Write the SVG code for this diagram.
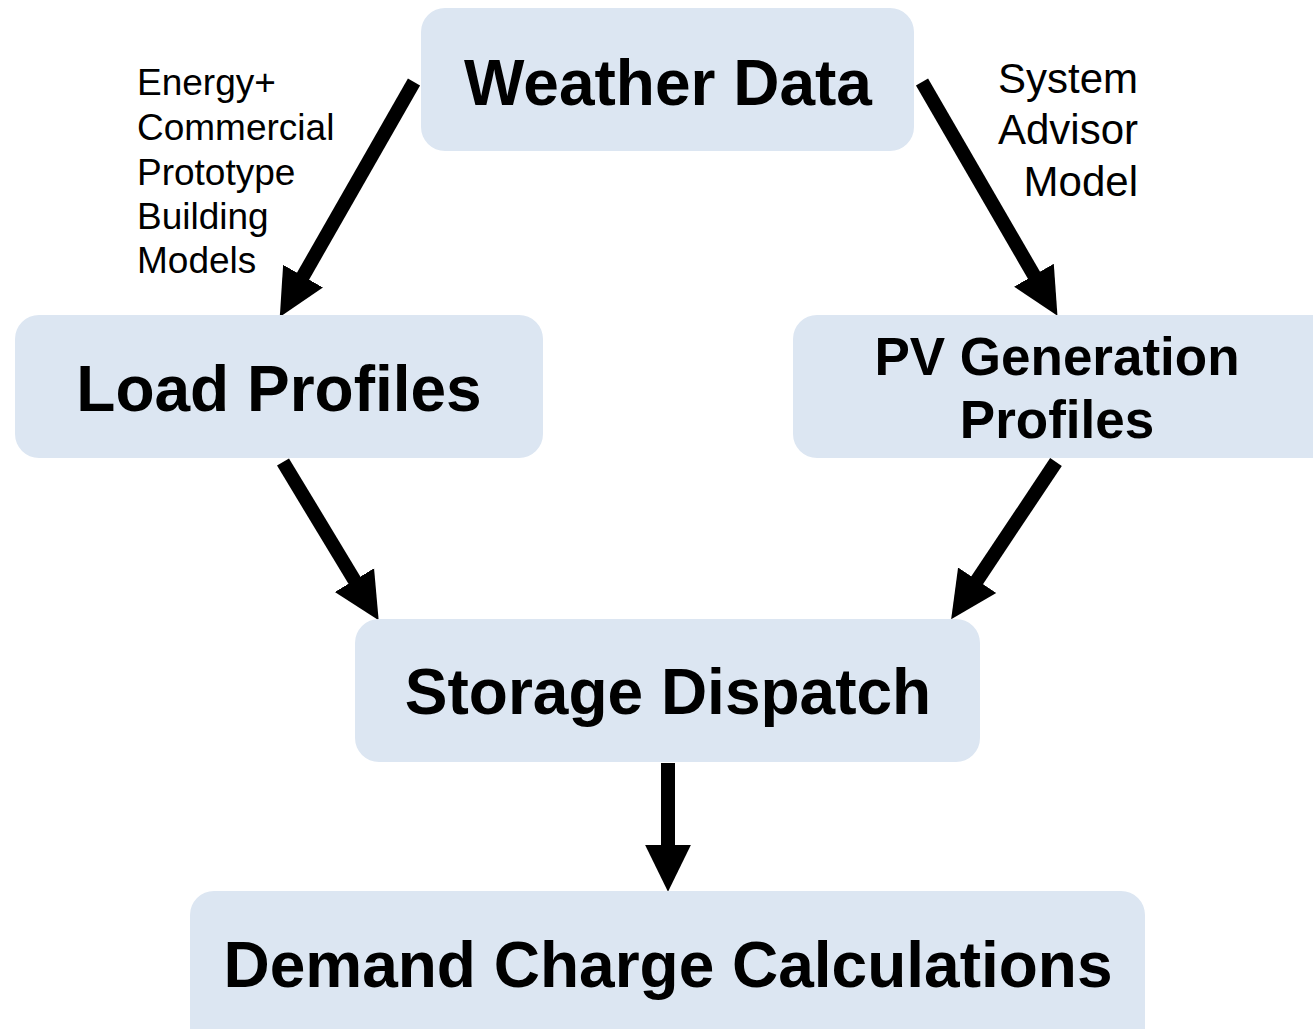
<svg xmlns="http://www.w3.org/2000/svg" width="1313" height="1029" viewBox="0 0 1313 1029">
<style>
.box{fill:#dce6f2;}
.t{font-family:"Liberation Sans",Arial,sans-serif;font-weight:bold;fill:#000;text-anchor:middle;}
.lbl{font-family:"Liberation Sans",Arial,sans-serif;fill:#000;}
.arr{stroke:#000;stroke-width:14;fill:none;marker-end:url(#ah);}
</style>
<defs>
<marker id="ah" markerUnits="userSpaceOnUse" markerWidth="50" markerHeight="50" viewBox="-2 -23 48 46" refX="0" refY="0" orient="auto">
<path d="M-2,-22 L43,0 L-2,22 z" fill="#000"/>
</marker>
</defs>
<rect width="1313" height="1029" fill="#fff"/>
<g id="connectors">
<line class="arr" x1="414" y1="82" x2="302" y2="278"/>
<line class="arr" x1="922" y1="82" x2="1035" y2="277"/>
<line class="arr" x1="283" y1="462" x2="355.5" y2="582"/>
<line class="arr" x1="1056" y1="462" x2="976" y2="582"/>
<line class="arr" x1="668" y1="763" x2="668" y2="847"/>
</g>
<g id="weather">
<rect class="box" x="421" y="8" width="493" height="143" rx="24"/>
<text class="t" x="668" y="105" font-size="64">Weather Data</text>
</g>
<g id="load">
<rect class="box" x="15" y="315" width="528" height="143" rx="24"/>
<text class="t" x="279" y="411" font-size="64">Load Profiles</text>
</g>
<g id="pv">
<rect class="box" x="793" y="315" width="545" height="143" rx="24"/>
<text class="t" x="1057" y="375" font-size="53">PV Generation</text>
<text class="t" x="1057" y="438" font-size="53">Profiles</text>
</g>
<g id="storage">
<rect class="box" x="355" y="619" width="625" height="143" rx="24"/>
<text class="t" x="668" y="714" font-size="64">Storage Dispatch</text>
</g>
<g id="demand">
<rect class="box" x="190" y="891" width="955" height="160" rx="24"/>
<text class="t" x="668" y="987" font-size="64">Demand Charge Calculations</text>
</g>
<g id="label-left" class="lbl" font-size="37">
<text x="137" y="95">Energy+</text>
<text x="137" y="140">Commercial</text>
<text x="137" y="185">Prototype</text>
<text x="137" y="229">Building</text>
<text x="137" y="273">Models</text>
</g>
<g id="label-right" class="lbl" font-size="42" text-anchor="end">
<text x="1138" y="93">System</text>
<text x="1138" y="144">Advisor</text>
<text x="1138" y="196">Model</text>
</g>
</svg>
